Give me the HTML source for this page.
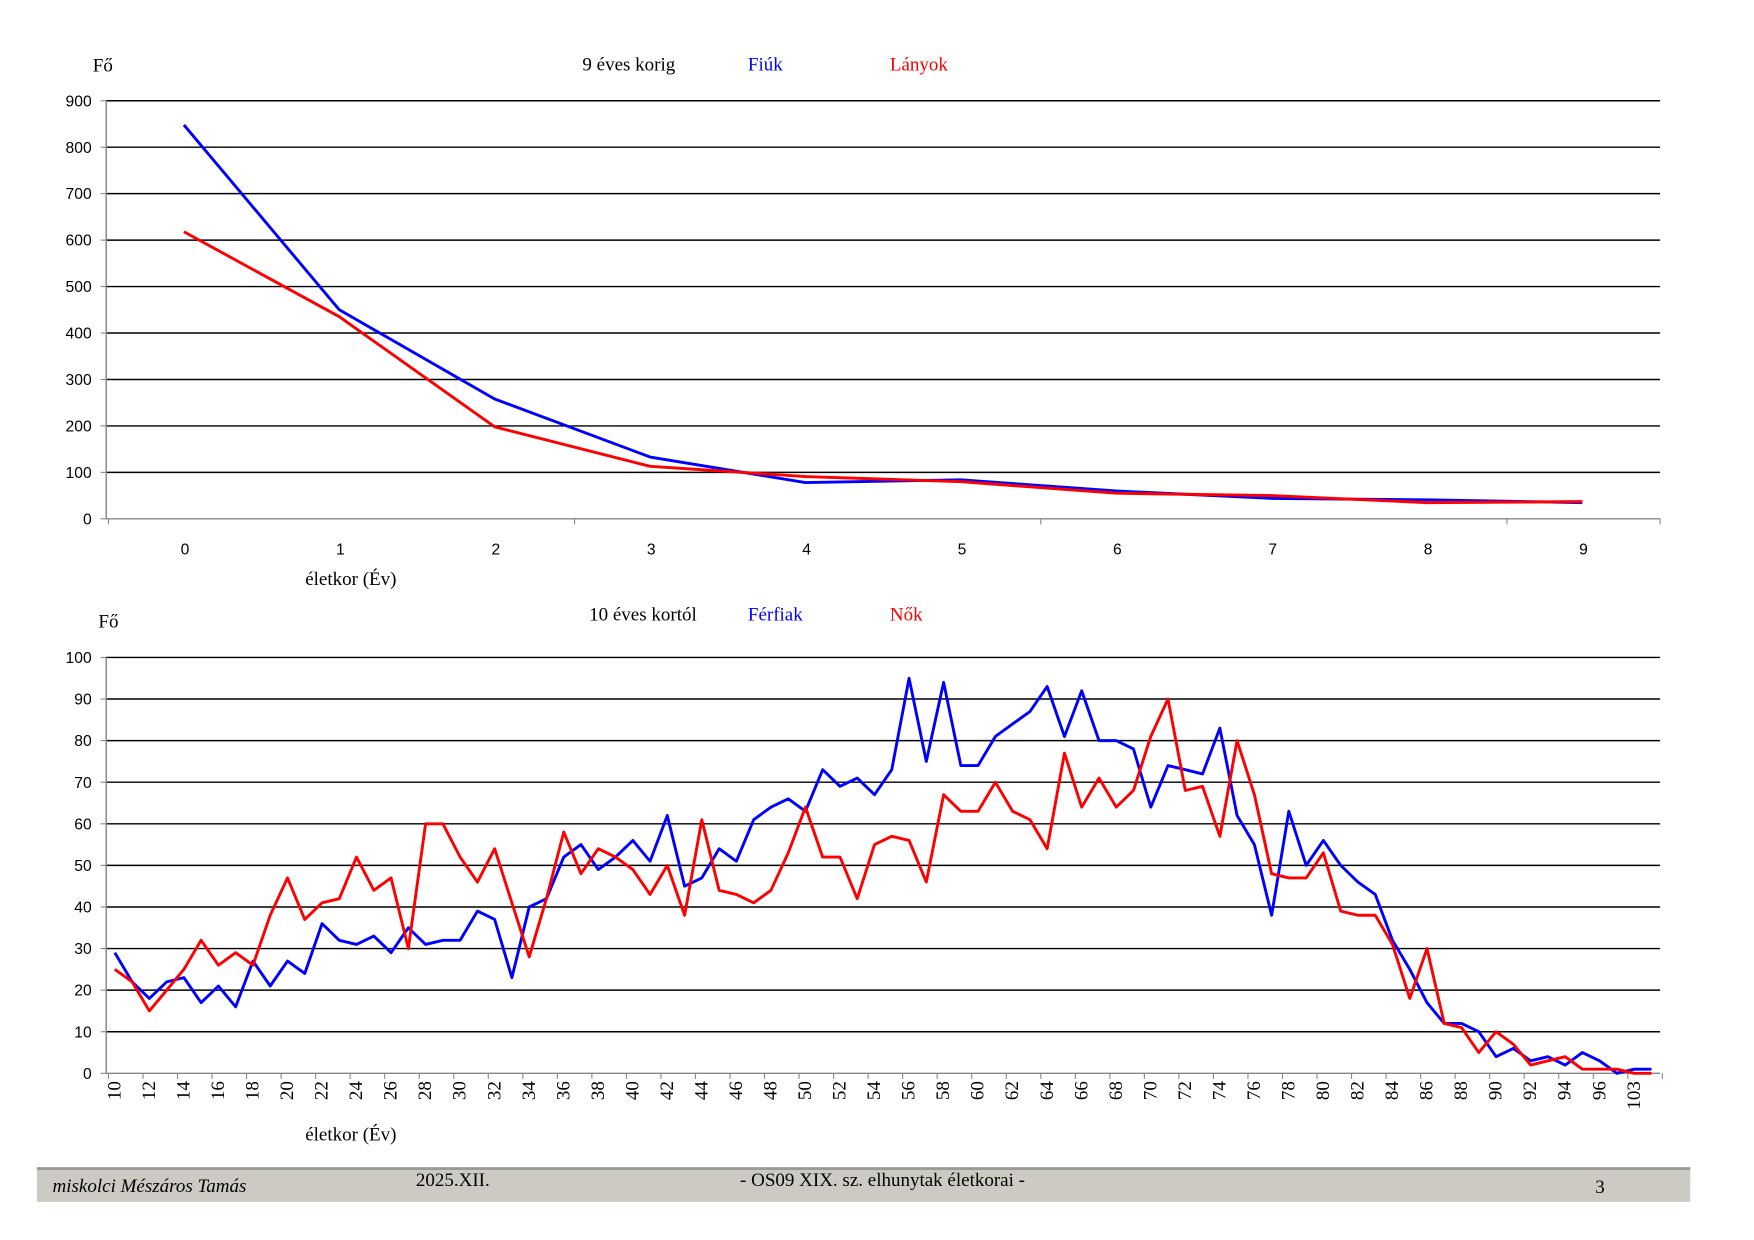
<!DOCTYPE html>
<html><head><meta charset="utf-8"><style>
html,body{margin:0;padding:0;background:#fff;width:1754px;height:1240px;overflow:hidden}
svg{display:block}
.s{font-family:"Liberation Sans",sans-serif;font-size:14px;fill:#000}
.t{font-family:"Liberation Serif",serif;font-size:17px}
</style></head><body>
<svg id="c" width="1754" height="1240" viewBox="0 0 1569 1109" xmlns="http://www.w3.org/2000/svg">
<rect x="33" y="1044" width="1479" height="31" fill="#cdcac3"/>
<rect x="33" y="1044" width="1479" height="2.5" fill="#999"/>
<text x="47" y="1066" class="t" font-style="italic" font-size="18">miskolci Mészáros Tamás</text>
<text x="372" y="1061" class="t" font-size="16">2025.XII.</text>
<text x="662" y="1061" class="t" font-size="16">- OS09  XIX. sz. elhunytak életkorai -</text>
<text x="1427" y="1067" class="t" font-size="16">3</text>
<text x="83" y="64" class="t" font-size="19">Fő</text>
<text x="521" y="63" class="t">9 éves korig</text>
<text x="669" y="63" class="t" fill="#0000ff">Fiúk</text>
<text x="796" y="63" class="t" fill="#ff0000">Lányok</text>
<text x="273" y="523" class="t">életkor (Év)</text>
<text x="88" y="561" class="t" font-size="19">Fő</text>
<text x="527" y="555" class="t">10 éves kortól</text>
<text x="669" y="555" class="t" fill="#0000ff">Férfiak</text>
<text x="796" y="555" class="t" fill="#ff0000">Nők</text>
<text x="273" y="1020" class="t">életkor (Év)</text>
<g id="g"></g>
</svg>
<script>
var g=document.getElementById('g'),h='';
function L(x1,y1,x2,y2,c,w){h+='<line x1="'+x1+'" y1="'+y1+'" x2="'+x2+'" y2="'+y2+'" stroke="'+c+'" stroke-width="'+w+'"/>';}
var L0=95,R=1485,T0=464,k1=374/900;
for(var v=0;v<=900;v+=100){var y=T0-v*k1;L(L0,y,R,y,v?'#000':'#888',1.3);L(L0-5,y,L0,y,'#888',1);h+='<text class="s" x="82" y="'+(y+5)+'" text-anchor="end">'+v+'</text>';}
L(L0,T0-374,L0,T0,'#888',1.3);
var st=(R-L0)/10;
[0,3,6,9].forEach(function(i){var x=L0+st*i+2;L(x,T0,x,T0+5,'#888',1);});
L(R,T0,R,T0+5,'#888',1);
for(var i=0;i<10;i++)h+='<text class="s" x="'+(L0+st*(i+0.5)+1)+'" y="496" text-anchor="middle">'+i+'</text>';
function P(d,c,x0,s,base,k){var p=d.map(function(v,i){return (x0+s*(i+0.5)).toFixed(1)+','+(base-v*k).toFixed(1)}).join(' ');h+='<polyline points="'+p+'" fill="none" stroke="'+c+'" stroke-width="2.6" stroke-linejoin="round"/>';}
P([848,450,258,133,78,84,60,44,41,35],'#0000ff',L0,st,T0,k1);
P([618,435,198,113,91,80,55,50,35,37],'#ff0000',L0,st,T0,k1);
var B0=960,k2=372/100;
for(v=0;v<=100;v+=10){y=B0-v*k2;L(L0,y,R,y,v?'#000':'#888',1.3);L(L0-5,y,L0,y,'#888',1);h+='<text class="s" x="82" y="'+(y+5)+'" text-anchor="end">'+v+'</text>';}
L(L0,B0-372,L0,B0,'#888',1.3);
var s2=(R-L0)/90;
for(i=0;i<=90;i+=2){var x=L0+s2*i+2;L(x,B0,x,B0+5,'#888',1);}
for(i=0;i<89;i+=2){var lab=i<88?(10+i):103;var x=L0+s2*(i+0.5)+5;h+='<text class="t" font-size="15" transform="translate('+x+',967) rotate(-90)" text-anchor="end">'+lab+'</text>';}
var bl=[29,22,18,22,23,17,21,16,27,21,27,24,36,32,31,33,29,35,31,32,32,39,37,23,40,42,52,55,49,52,56,51,62,45,47,54,51,61,64,66,63,73,69,71,67,73,95,75,94,74,74,81,84,87,93,81,92,80,80,78,64,74,73,72,83,62,55,38,63,50,56,50,46,43,32,25,17,12,12,10,4,6,3,4,2,5,3,0,1,1];
var rd=[25,22,15,20,25,32,26,29,26,38,47,37,41,42,52,44,47,30,60,60,52,46,54,41,28,42,58,48,54,52,49,43,50,38,61,44,43,41,44,53,64,52,52,42,55,57,56,46,67,63,63,70,63,61,54,77,64,71,64,68,81,90,68,69,57,80,67,48,47,47,53,39,38,38,31,18,30,12,11,5,10,7,2,3,4,1,1,1,0,0];
P(bl,'#0000ff',L0,s2,B0,k2);
P(rd,'#ff0000',L0,s2,B0,k2);
g.innerHTML=h;
</script>
</body></html>
